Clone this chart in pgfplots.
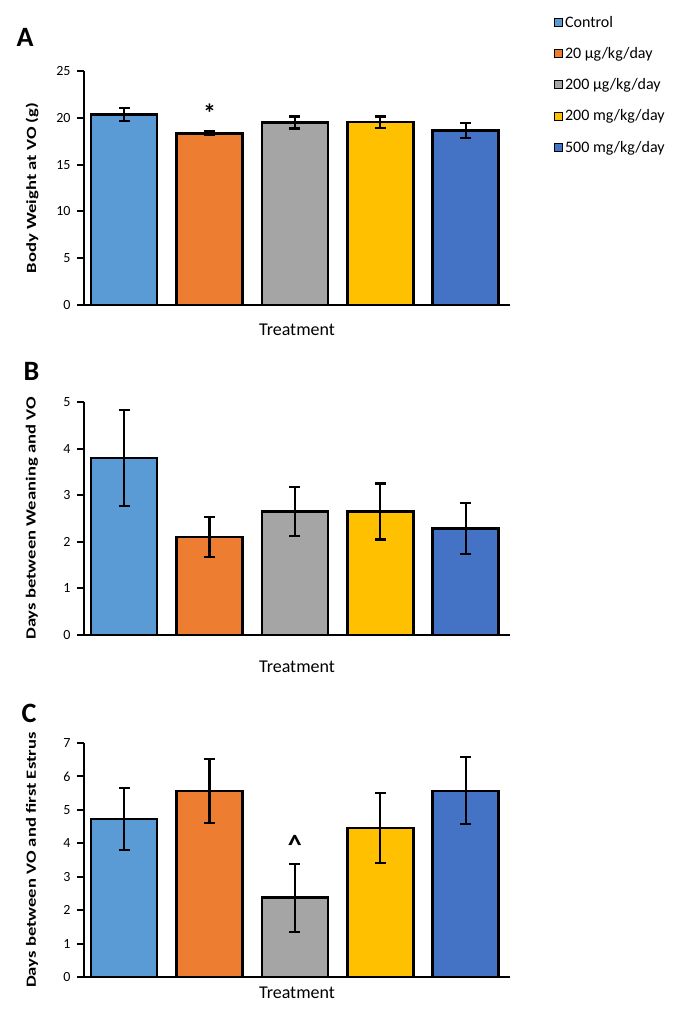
\documentclass[border=0pt]{standalone}
\usepackage{graphicx}
\usepackage{pgfplots}
\pgfplotsset{compat=1.18}
\usepackage{fontspec}
\setmainfont{Carlito}
\definecolor{cA}{HTML}{5B9BD5}
\definecolor{cB}{HTML}{ED7D31}
\definecolor{cC}{HTML}{A5A5A5}
\definecolor{cD}{HTML}{FFC000}
\definecolor{cE}{HTML}{4472C4}
\pgfplotsset{
  panel/.style={
    width=426pt, height=234pt, scale only axis,
    xmin=-0.47, xmax=4.52, ymin=0,
    axis x line*=bottom, axis y line*=left,
    axis line style={line width=2.2pt, black},
    xtick=\empty,
    ytick style={line width=2pt, black},
    major tick length=7pt, tick align=outside,
    yticklabel style={font=\fontsize{14}{14}\selectfont, xshift=-3pt},
    /pgf/number format/assume math mode=true,
    xlabel style={font=\fontsize{18}{18}\selectfont, at={(axis description cs:0.5,0)}, anchor=base},
    ylabel style={font=\fontsize{14}{14}\selectfont\bfseries, at={(axis description cs:0,0.5)}, anchor=center, yshift=52pt},
    clip=false,
  },
  mybar/.style={ybar, bar width=66pt, bar shift=0pt, fill=#1, draw=black, line width=2.6pt,
    legend image code/.code={\draw[fill=#1, draw=black, line width=1pt] (0pt,-4pt) rectangle (8pt,4pt);},
    error bars/.cd, y dir=both, y explicit,
    error bar style={line width=2.2pt, black},
    error mark options={rotate=90, mark size=5.5pt, line width=2.2pt, black}},
}
\begin{document}
\begin{tikzpicture}
\path[use as bounding box] (0pt,0pt) rectangle (680pt,-1010pt);
% Panel A
\begin{axis}[panel, at={(84pt,-305pt)}, anchor=south west,
  ymax=25, ytick={0,5,10,15,20,25},
  xlabel={Treatment}, xlabel style={yshift=-30pt},
  ylabel={\scalebox{1.33}[1]{Body Weight at VO (g)}},
  legend style={draw=none, fill=none, at={(1.103,1.244)}, anchor=north west,
    font=\fontsize{16}{16}\selectfont, row sep=14.6pt, inner sep=0pt,
    cells={anchor=west}},
]
\addplot[mybar=cA] coordinates {(0,20.35) +- (0,0.7)};
\addlegendentry{Control}
\addplot[mybar=cB] coordinates {(1,18.35) +- (0,0.22)};
\addlegendentry{20 µg/kg/day}
\addplot[mybar=cC] coordinates {(2,19.5) +- (0,0.65)};
\addlegendentry{200 µg/kg/day}
\addplot[mybar=cD] coordinates {(3,19.55) +- (0,0.6)};
\addlegendentry{200 mg/kg/day}
\addplot[mybar=cE] coordinates {(4,18.65) +- (0,0.8)};
\addlegendentry{500 mg/kg/day}
\node[font=\fontsize{26}{26}\selectfont\bfseries] at (axis cs:1,20.45) {*};
\end{axis}
% Panel B
\begin{axis}[panel, at={(84pt,-635pt)}, anchor=south west, height=233pt,
  ymax=5, ytick={0,1,2,3,4,5},
  xlabel={Treatment}, xlabel style={yshift=-37pt},
  ylabel={\scalebox{1.33}[1]{Days between Weaning and VO}},
]
\addplot[mybar=cA] coordinates {(0,3.8) +- (0,1.03)};
\addplot[mybar=cB] coordinates {(1,2.1) +- (0,0.43)};
\addplot[mybar=cC] coordinates {(2,2.65) +- (0,0.52)};
\addplot[mybar=cD] coordinates {(3,2.65) +- (0,0.6)};
\addplot[mybar=cE] coordinates {(4,2.28) +- (0,0.55)};
\end{axis}
% Panel C
\begin{axis}[panel, at={(84pt,-977pt)}, anchor=south west,
  ymax=7, ytick={0,1,2,3,4,5,6,7},
  xlabel={Treatment}, xlabel style={yshift=-21pt},
  ylabel={\scalebox{1.33}[1]{Days between VO and first Estrus}},
]
\addplot[mybar=cA] coordinates {(0,4.73) +- (0,0.93)};
\addplot[mybar=cB] coordinates {(1,5.57) +- (0,0.96)};
\addplot[mybar=cC] coordinates {(2,2.37) +- (0,1.02)};
\addplot[mybar=cD] coordinates {(3,4.46) +- (0,1.04)};
\addplot[mybar=cE] coordinates {(4,5.57) +- (0,1.0)};
\node[font=\fontsize{28}{28}\selectfont\bfseries] at (axis cs:2,3.95) {\^{}};
\end{axis}
\node[anchor=base west, font=\fontsize{28}{28}\selectfont\bfseries] at (13pt,-46pt) {A};
\node[anchor=base west, font=\fontsize{28}{28}\selectfont\bfseries] at (20pt,-380pt) {B};
\node[anchor=base west, font=\fontsize{28}{28}\selectfont\bfseries] at (18pt,-722pt) {C};
\end{tikzpicture}
\end{document}
